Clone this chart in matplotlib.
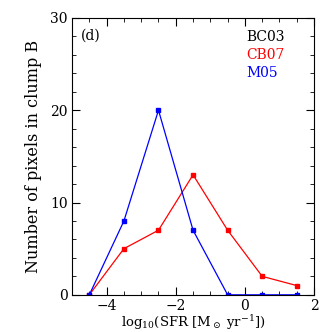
import matplotlib
matplotlib.use("Agg")
import matplotlib.pyplot as plt
from matplotlib.ticker import MultipleLocator

log_sfr = [-4.5, -3.5, -2.5, -1.5, -0.5, 0.5, 1.5]
cb07 = [0, 5, 7, 13, 7, 2, 1]
m05 = [0, 8, 20, 7, 0, 0, 0]

serif = "DejaVu Serif"
plt.rcParams["mathtext.fontset"] = "dejavuserif"

fig = plt.figure(figsize=(3.32, 3.32), dpi=100)
ax = fig.add_axes([0.217, 0.112, 0.729, 0.834])

ax.plot(log_sfr, cb07, "-s", color="red", lw=0.9, ms=2.5)
ax.plot(log_sfr, m05, "-s", color="blue", lw=0.9, ms=2.5)

ax.set_xlim(-5, 2)
ax.set_ylim(0, 30)
ax.xaxis.set_major_locator(MultipleLocator(2))
ax.xaxis.set_minor_locator(MultipleLocator(0.5))
ax.yaxis.set_major_locator(MultipleLocator(10))
ax.yaxis.set_minor_locator(MultipleLocator(2))
ax.tick_params(which="both", direction="in", top=True, right=True, labelsize=10, pad=3)
ax.tick_params(which="major", length=6)
ax.tick_params(which="minor", length=3)
for lab in ax.get_xticklabels() + ax.get_yticklabels():
    lab.set_family(serif)

ax.set_xlabel(r"log$_{10}$(SFR [M$_\odot$ yr$^{-1}$])", family=serif, fontsize=9.5, labelpad=0)
ax.set_ylabel("Number of pixels in clump B", family=serif, fontsize=11.5, labelpad=6)

ax.text(0.035, 0.935, "(d)", transform=ax.transAxes, family=serif, fontsize=10, va="center")
ax.text(0.72, 0.93, "BC03", transform=ax.transAxes, family=serif, fontsize=10, color="black", va="center")
ax.text(0.72, 0.865, "CB07", transform=ax.transAxes, family=serif, fontsize=10, color="red", va="center")
ax.text(0.72, 0.80, "M05", transform=ax.transAxes, family=serif, fontsize=10, color="blue", va="center")

fig.savefig("out.png", dpi=100)
